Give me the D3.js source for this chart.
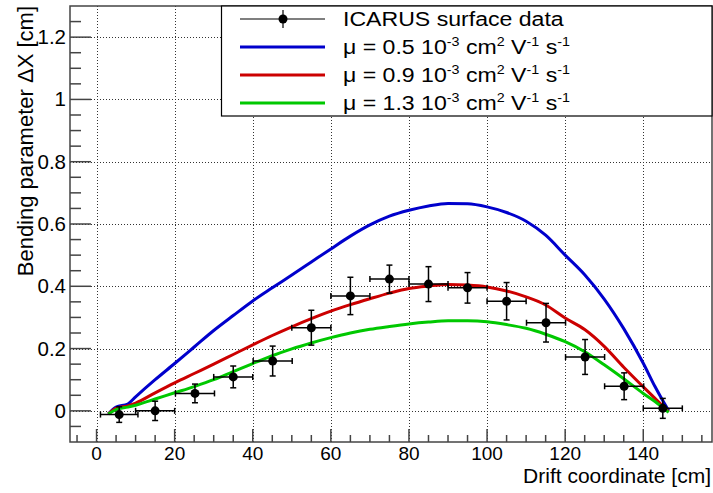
<!DOCTYPE html>
<html>
<head>
<meta charset="utf-8">
<script src="https://cdn.jsdelivr.net/npm/d3@7"></script>
<style>
  body { margin: 0; background: #fff; }
  svg { font-family: "Liberation Sans", Arial, sans-serif; }
</style>
</head>
<body>
<main></main>
<script>
// ICARUS surface data points
const dataX = [5.8, 15, 25.2, 35, 45.1, 55, 65, 75, 85, 95, 105, 115.1, 125.1, 135.1, 145];
const dataY = [-0.012, 0.0, 0.056, 0.109, 0.16, 0.267, 0.369, 0.423, 0.407, 0.395, 0.352, 0.283, 0.173, 0.079, 0.008];
const dataXErr = [4.8, 5, 5, 5, 5, 5, 5, 5, 5, 5, 5, 5, 5, 5, 5];
const dataYErr = [0.025, 0.031, 0.03, 0.035, 0.048, 0.056, 0.06, 0.045, 0.056, 0.049, 0.06, 0.062, 0.056, 0.043, 0.032];

// model curves, sampled along drift coordinate
const curveX = [3, 5, 8, 10, 15, 20, 25, 30, 35, 40, 45, 50, 55, 60, 65, 70, 75, 80, 85, 90, 95, 100, 105, 110, 115, 120, 125, 130, 135, 140, 143, 146.5];
const mu05 = [-0.01, 0.012, 0.022, 0.045, 0.10, 0.152, 0.205, 0.258, 0.306, 0.353, 0.395, 0.436, 0.478, 0.52, 0.561, 0.597, 0.625, 0.644, 0.658, 0.666, 0.665, 0.655, 0.637, 0.609, 0.564, 0.50, 0.437, 0.359, 0.264, 0.153, 0.078, 0.0];
const mu09 = [-0.01, 0.008, 0.016, 0.025, 0.058, 0.09, 0.12, 0.15, 0.181, 0.212, 0.242, 0.27, 0.296, 0.32, 0.341, 0.36, 0.378, 0.393, 0.401, 0.406, 0.404, 0.398, 0.385, 0.366, 0.34, 0.298, 0.261, 0.207, 0.14, 0.077, 0.04, -0.003];
const mu13 = [-0.01, 0.004, 0.012, 0.018, 0.038, 0.058, 0.078, 0.1, 0.126, 0.152, 0.177, 0.199, 0.218, 0.235, 0.25, 0.262, 0.271, 0.279, 0.285, 0.289, 0.289, 0.286, 0.277, 0.265, 0.246, 0.222, 0.19, 0.148, 0.103, 0.056, 0.03, -0.005];

const xTicks = [0, 20, 40, 60, 80, 100, 120, 140];
const yTicks = [0, 0.2, 0.4, 0.6, 0.8, 1, 1.2];

const series = [
  { name: "0.5", values: mu05, color: "#0000cc" },
  { name: "0.9", values: mu09, color: "#cc0000" },
  { name: "1.3", values: mu13, color: "#00c800" }
];

const W = 713, H = 493;
const frame = { left: 70, right: 712, top: 6, bottom: 442 };

const svg = d3.select("main").append("svg")
  .attr("width", W)
  .attr("height", H);

const x = d3.scaleLinear().domain([-6.8, 157.6]).range([frame.left, frame.right]);
const y = d3.scaleLinear().domain([-0.1, 1.3]).range([frame.bottom, frame.top]);

// grid (dotted)
const grid = svg.append("g").attr("stroke", "#333").attr("stroke-width", 1).attr("stroke-dasharray", "1,2");
grid.selectAll(".gx").data(xTicks).enter().append("line")
  .attr("x1", d => Math.round(x(d)) + 0.5).attr("x2", d => Math.round(x(d)) + 0.5)
  .attr("y1", frame.top).attr("y2", frame.bottom);
grid.selectAll(".gy").data(yTicks).enter().append("line")
  .attr("y1", d => Math.round(y(d)) + 0.5).attr("y2", d => Math.round(y(d)) + 0.5)
  .attr("x1", frame.left).attr("x2", frame.right);

// x axis ticks (inside, at bottom)
const xMinor = d3.range(-5, 156, 5);
svg.append("g").selectAll("line").data(xMinor).enter().append("line")
  .attr("x1", d => x(d)).attr("x2", d => x(d))
  .attr("y1", frame.bottom)
  .attr("y2", d => frame.bottom - (d % 20 === 0 ? 13 : 7))
  .attr("stroke", "#444").attr("stroke-width", 1.5);
svg.append("g").selectAll("text").data(xTicks).enter().append("text")
  .attr("x", d => x(d)).attr("y", 460)
  .attr("text-anchor", "middle")
  .style("font-size", "19px")
  .text(d => d);

// y axis ticks (inside, at left)
const yMinor = d3.range(-0.05, 1.26, 0.05).map(v => +v.toFixed(2));
svg.append("g").selectAll("line").data(yMinor).enter().append("line")
  .attr("y1", d => y(d)).attr("y2", d => y(d))
  .attr("x1", frame.left)
  .attr("x2", d => frame.left + (Math.abs(d * 5 - Math.round(d * 5)) < 1e-6 ? 21 : 11))
  .attr("stroke", "#444").attr("stroke-width", 1.5);
svg.append("g").selectAll("text").data(yTicks).enter().append("text")
  .attr("x", 66).attr("y", d => y(d) + 7)
  .attr("text-anchor", "end")
  .style("font-size", "20.5px")
  .text(d => d);

// frame
svg.append("rect")
  .attr("x", frame.left).attr("y", frame.top)
  .attr("width", frame.right - frame.left).attr("height", frame.bottom - frame.top)
  .attr("fill", "none").attr("stroke", "#444").attr("stroke-width", 1.5);

// curves
const line = d3.line()
  .x(d => x(d[0]))
  .y(d => y(d[1]))
  .curve(d3.curveMonotoneX);
series.forEach(s => {
  svg.append("path")
    .datum(curveX.map((cx, i) => [cx, s.values[i]]))
    .attr("d", line)
    .attr("fill", "none")
    .attr("stroke", s.color)
    .attr("stroke-width", 3);
});

// data points with error bars
const pts = dataX.map((d, i) => ({ x: d, y: dataY[i], ex: dataXErr[i], ey: dataYErr[i] }));
const eb = svg.append("g").attr("stroke", "#000").attr("stroke-width", 1.5);
pts.forEach(p => {
  const px = x(p.x), py = y(p.y);
  const x0 = x(p.x - p.ex), x1 = x(p.x + p.ex);
  const y0 = y(p.y - p.ey), y1 = y(p.y + p.ey);
  eb.append("line").attr("x1", x0).attr("x2", x1).attr("y1", py).attr("y2", py);
  eb.append("line").attr("x1", x0).attr("x2", x0).attr("y1", py - 3).attr("y2", py + 3);
  eb.append("line").attr("x1", x1).attr("x2", x1).attr("y1", py - 3).attr("y2", py + 3);
  eb.append("line").attr("x1", px).attr("x2", px).attr("y1", y0).attr("y2", y1);
  eb.append("line").attr("x1", px - 3).attr("x2", px + 3).attr("y1", y0).attr("y2", y0);
  eb.append("line").attr("x1", px - 3).attr("x2", px + 3).attr("y1", y1).attr("y2", y1);
});
svg.append("g").selectAll("circle").data(pts).enter().append("circle")
  .attr("cx", d => x(d.x)).attr("cy", d => y(d.y))
  .attr("r", 4.5).attr("fill", "#000");

// axis titles
svg.append("text")
  .attr("x", 711).attr("y", 483)
  .attr("text-anchor", "end")
  .style("font-size", "21px")
  .text("Drift coordinate [cm]");
svg.append("text")
  .attr("transform", "translate(33,6) rotate(-90)")
  .attr("text-anchor", "end")
  .style("font-size", "22px")
  .text("Bending parameter \u0394X [cm]");

// legend
const lg = svg.append("g");
lg.append("rect")
  .attr("x", 221.5).attr("y", frame.top)
  .attr("width", frame.right - 221.5).attr("height", 116 - frame.top)
  .attr("fill", "#fff").attr("stroke", "#000").attr("stroke-width", 1.2);
const rowY = [19, 47, 75, 103];
// data entry
lg.append("line").attr("x1", 240).attr("x2", 325).attr("y1", rowY[0]).attr("y2", rowY[0])
  .attr("stroke", "#000").attr("stroke-width", 1.2);
lg.append("line").attr("x1", 283).attr("x2", 283).attr("y1", rowY[0] - 9).attr("y2", rowY[0] + 9)
  .attr("stroke", "#000").attr("stroke-width", 1.2);
lg.append("circle").attr("cx", 283).attr("cy", rowY[0]).attr("r", 4.5).attr("fill", "#000");
lg.append("text")
  .attr("transform", `translate(343,${rowY[0] + 7}) scale(1.1,1)`)
  .style("font-size", "21px")
  .text("ICARUS surface data");

series.forEach((s, i) => {
  const cy = rowY[i + 1];
  lg.append("line").attr("x1", 240).attr("x2", 325).attr("y1", cy).attr("y2", cy)
    .attr("stroke", s.color).attr("stroke-width", 3);
  const t = lg.append("text")
    .attr("transform", `translate(343,${cy + 7}) scale(1.1,1)`)
    .style("font-size", "21px");
  const parts = [
    ["\u03bc = " + s.name + " 10", false],
    ["-3", true],
    [" cm", false],
    ["2", true],
    [" V", false],
    ["-1", true],
    [" s", false],
    ["-1", true]
  ];
  parts.forEach(([txt, sup], k) => {
    const prevSup = k > 0 && parts[k - 1][1];
    t.append("tspan")
      .attr("dy", sup ? -8 : (prevSup ? 8 : 0))
      .style("font-size", sup ? "13px" : "21px")
      .text(txt);
  });
});
</script>
</body>
</html>
